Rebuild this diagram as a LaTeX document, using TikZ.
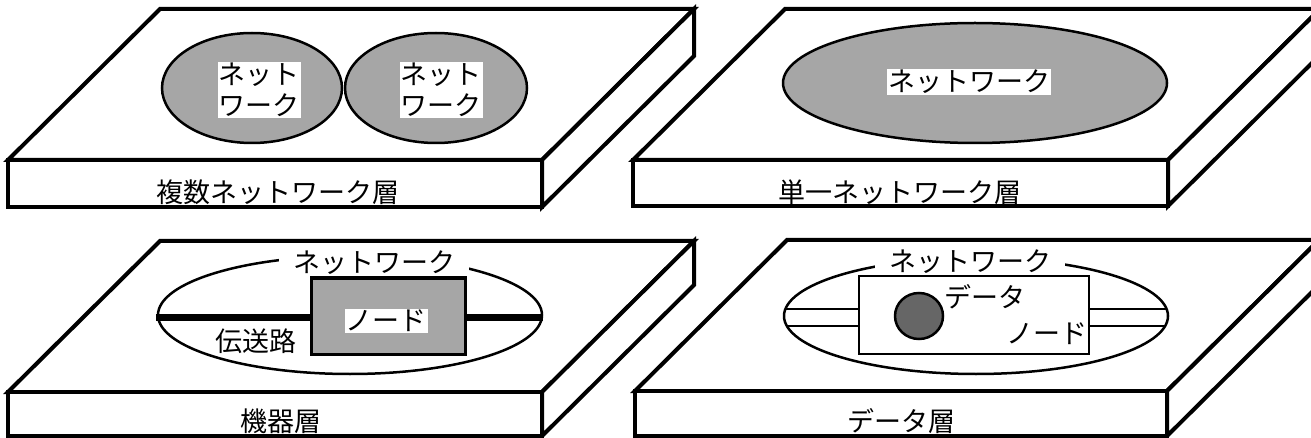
\documentclass[tikz,border=0pt]{standalone}
\usepackage{fontspec}
\newfontfamily\jp{Noto Sans CJK JP}
\usetikzlibrary{calc}
\tikzset{
  slabline/.style={line width=4pt, line join=miter, fill=white},
  net/.style={line width=2.5pt, fill=black!35},
  lbl/.style={font=\jp\fontsize{27}{31}\selectfont, inner sep=1pt},
  wbox/.style={lbl, fill=white},
  thinline/.style={line width=2.5pt},
}
\newcommand{\drawslab}[4]{%
  \filldraw[slabline] (#1,#2) -- ++(152,-151) -- ++(#3,0) -- ++(-152,151) -- cycle;
  \filldraw[slabline] (#1,#2) rectangle ++(#3,#4);
  \filldraw[slabline] (#1+#3,#2) -- ++(152,-151) -- ++(0,#4) -- ++(-152,151) -- cycle;
}
\begin{document}
\begin{tikzpicture}[x=1pt,y=-1pt]
\useasboundingbox (0,0) rectangle (1311,438);
\clip (0,0) rectangle (1311,438);
% slabs
\drawslab{8}{160}{534}{47}
\drawslab{633}{160}{535}{46}
\drawslab{8}{392}{534}{44}
\drawslab{635}{391}{532}{45}
% panel 1
\filldraw[net] (252,88) ellipse [x radius=90, y radius=55];
\filldraw[net] (436,88) ellipse [x radius=91, y radius=55];
\node[wbox, align=center] (n1) at (259,90) {ネット\\ワーク};
\node[wbox, align=center] (n2) at (441,90) {ネット\\ワーク};
\node[lbl] (l1) at (278,192) {複数ネットワーク層};
% panel 2
\filldraw[net] (975,83) ellipse [x radius=192, y radius=60];
\node[wbox] (n3) at (969,82) {ネットワーク};
\node[lbl] (l2) at (900,192) {単一ネットワーク層};
% panel 3
\draw[thinline] (350,315) ellipse [x radius=192, y radius=59];
\node[lbl, fill=white, inner xsep=14pt] (n4) at (374,263) {ネットワーク};
\coordinate (tL) at (156,317);
\coordinate (tR) at (543,317);
\draw[line width=7pt] (tL) -- (tR);
\node[draw, line width=3pt, fill=black!35, minimum width=154, minimum height=76, inner sep=0pt] (box1) at (388,316) {};
\node[wbox] (n5) at (386,321) {ノード};
\node[lbl] (n6) at (256,341) {伝送路};
\node[lbl] (l3) at (281,421) {機器層};
% panel 4
\draw[thinline] (976,316) ellipse [x radius=192, y radius=58];
\node[lbl, fill=white, inner xsep=14pt] (n7) at (970,262) {ネットワーク};
\node[draw, thinline, fill=white, minimum width=230, minimum height=78, inner sep=0pt] (box2) at (974,315) {};
\coordinate (a1) at (785,309);
\coordinate (a2) at (786,326);
\coordinate (b1) at (1167,309);
\coordinate (b2) at (1166,326);
\draw[thinline] (a1) -- (a1 -| box2.west);
\draw[thinline] (a2) -- (a2 -| box2.west);
\draw[thinline] (b1) -- (b1 -| box2.east);
\draw[thinline] (b2) -- (b2 -| box2.east);
\filldraw[thinline, fill=black!60] (919,316) ellipse [x radius=24, y radius=23];
\node[lbl] (n8) at (985,297) {データ};
\node[lbl] (n9) at (1047,334) {ノード};
\node[lbl] (l4) at (901,421) {データ層};
\end{tikzpicture}
\end{document}
